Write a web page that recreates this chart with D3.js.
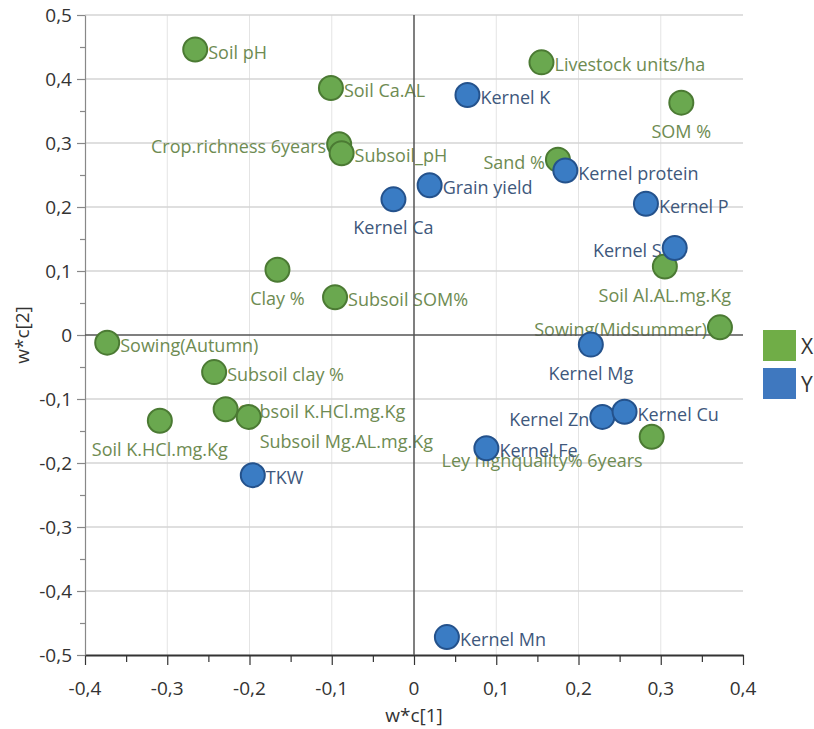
<!DOCTYPE html>
<html>
<head>
<meta charset="utf-8">
<script src="https://cdn.jsdelivr.net/npm/d3@7"></script>
<style>
  html, body { margin: 0; padding: 0; background: #fff; }
  svg { display: block; font-family: "Open Sans", "Segoe UI", sans-serif; }
</style>
</head>
<body>
<svg id="chart" width="814" height="729"></svg>
<script>
// X block (predictors) loadings
const xNames = ["Soil pH", "Soil Ca.AL", "Crop.richness 6years", "Subsoil_pH", "Livestock units/ha",
  "SOM %", "Sand %", "Clay %", "Subsoil SOM%", "Sowing(Autumn)", "Subsoil clay %",
  "Subsoil K.HCl.mg.Kg", "Subsoil Mg.AL.mg.Kg", "Soil K.HCl.mg.Kg", "Soil Al.AL.mg.Kg",
  "Sowing(Midsummer)", "Ley highquality% 6years"];
const xWc1 = [-0.266, -0.101, -0.091, -0.088, 0.155, 0.325, 0.175, -0.166, -0.096, -0.373, -0.243,
  -0.229, -0.201, -0.309, 0.305, 0.372, 0.289];
const xWc2 = [0.446, 0.386, 0.298, 0.284, 0.426, 0.363, 0.274, 0.102, 0.059, -0.012, -0.058,
  -0.116, -0.128, -0.134, 0.107, 0.012, -0.159];

// Y block (responses) loadings
const yNames = ["Kernel K", "Kernel protein", "Grain yield", "Kernel Ca", "Kernel P", "Kernel S",
  "Kernel Mg", "Kernel Zn", "Kernel Cu", "Kernel Fe", "TKW", "Kernel Mn"];
const yWc1 = [0.065, 0.184, 0.019, -0.025, 0.282, 0.317, 0.215, 0.229, 0.256, 0.088, -0.196, 0.040];
const yWc2 = [0.375, 0.257, 0.234, 0.212, 0.205, 0.136, -0.015, -0.128, -0.120, -0.177, -0.219, -0.472];

// where each label sits relative to its point: r, l, b (below), br, bl
const xLabelSide = ["r", "r", "l", "r", "r", "b", "l", "b", "r", "r", "r", "r", "br", "b", "b", "l", "bl"];
const yLabelSide = ["r", "r", "r", "b", "r", "l", "b", "l", "r", "r", "r", "r"];

const xTicks = [-0.4, -0.3, -0.2, -0.1, 0, 0.1, 0.2, 0.3, 0.4];
const yTicks = [-0.5, -0.4, -0.3, -0.2, -0.1, 0, 0.1, 0.2, 0.3, 0.4, 0.5];
const legendKeys = ["X", "Y"];

const fmt = v => (Math.abs(v) < 1e-9 ? "0" : d3.format(".1f")(v).replace(".", ",").replace("−", "-"));

const svg = d3.select("#chart");
const m = { left: 85, right: 743, top: 15, bottom: 655 };
const x = d3.scaleLinear().domain([-0.4, 0.4]).range([m.left, m.right]);
const y = d3.scaleLinear().domain([-0.5, 0.5]).range([m.bottom, m.top]);

const colors = {
  X: { fill: "#6aa84f", stroke: "#4b7a33", text: "#6e8b52", legend: "#70ad47" },
  Y: { fill: "#3a7cc4", stroke: "#24528c", text: "#40587c", legend: "#3f78bf" }
};

// grid
const grid = svg.append("g");
grid.selectAll(".vg").data(xTicks.filter(t => t > -0.4 && t < 0.4 && t !== 0)).join("line")
  .attr("x1", d => x(d)).attr("x2", d => x(d)).attr("y1", m.top).attr("y2", m.bottom)
  .attr("stroke", "#e4e4e4").attr("stroke-width", 1);
grid.selectAll(".hg").data(yTicks.filter(t => t > -0.5 && t !== 0)).join("line")
  .attr("x1", m.left).attr("x2", m.right).attr("y1", d => y(d)).attr("y2", d => y(d))
  .attr("stroke", "#d4d4d4").attr("stroke-width", 1.5);

// axes
const xAxis = d3.axisBottom(x).tickValues(d3.range(-0.4, 0.4001, 0.05)).tickSize(0).tickFormat("");
const gx = svg.append("g").attr("transform", `translate(0,${m.bottom})`).call(xAxis);
gx.select(".domain").attr("stroke", "#333").attr("stroke-width", 2);
gx.selectAll(".tick line").attr("stroke", "#333").attr("stroke-width", 1.2)
  .attr("y2", (d, i) => (i % 2 === 0 ? 10 : 7));
svg.append("g").selectAll("text").data(xTicks).join("text")
  .attr("x", d => x(d)).attr("y", 688).attr("text-anchor", "middle").attr("dominant-baseline", "central")
  .attr("font-size", 19).attr("fill", "#333").text(fmt);

const yAxis = d3.axisLeft(y).tickValues(d3.range(-0.5, 0.5001, 0.05)).tickSize(0).tickFormat("");
const gy = svg.append("g").attr("transform", `translate(${m.left},0)`).call(yAxis);
gy.select(".domain").attr("stroke", "#888").attr("stroke-width", 1.2);
gy.selectAll(".tick line").attr("stroke", "#888").attr("stroke-width", 1.2)
  .attr("x2", (d, i) => (i % 2 === 0 ? -8 : -5));
svg.append("g").selectAll("text").data(yTicks).join("text")
  .attr("x", 72).attr("y", d => y(d)).attr("text-anchor", "end").attr("dominant-baseline", "central")
  .attr("font-size", 19).attr("fill", "#333").text(fmt);

// axis titles
svg.append("text").attr("x", x(0)).attr("y", 715).attr("text-anchor", "middle")
  .attr("dominant-baseline", "central").attr("font-size", 19).attr("fill", "#333").text("w*c[1]");
svg.append("text").attr("transform", `translate(22,${y(0)}) rotate(-90)`).attr("text-anchor", "middle")
  .attr("dominant-baseline", "central").attr("font-size", 19).attr("fill", "#333").text("w*c[2]");

// points as rows
const rows = [
  ...xNames.map((n, i) => ({ name: n, c1: xWc1[i], c2: xWc2[i], side: xLabelSide[i], key: "X" })),
  ...yNames.map((n, i) => ({ name: n, c1: yWc1[i], c2: yWc2[i], side: yLabelSide[i], key: "Y" }))
];

const r = 12;
function labelPos(d) {
  const cx = x(d.c1), cy = y(d.c2);
  switch (d.side) {
    case "l": return { x: cx - 13, y: cy + 2, a: "end" };
    case "b": return { x: cx, y: cy + 28, a: "middle" };
    case "br": return { x: cx + 11, y: cy + 24, a: "start" };
    case "bl": return { x: cx - 9, y: cy + 23, a: "end" };
    default: return { x: cx + 13, y: cy + 2, a: "start" };
  }
}

svg.append("g").selectAll("text").data(rows).join("text")
  .each(function (d) {
    const p = labelPos(d);
    d3.select(this).attr("x", p.x).attr("y", p.y).attr("text-anchor", p.a);
  })
  .attr("dominant-baseline", "central").attr("font-size", 18)
  .attr("fill", d => colors[d.key].text).text(d => d.name);

// zero lines
svg.append("line").attr("x1", x(0)).attr("x2", x(0)).attr("y1", m.top).attr("y2", m.bottom)
  .attr("stroke", "#555").attr("stroke-width", 1.5);
svg.append("line").attr("x1", m.left).attr("x2", m.right).attr("y1", y(0)).attr("y2", y(0))
  .attr("stroke", "#555").attr("stroke-width", 1.5);

svg.append("g").selectAll("circle").data(rows).join("circle")
  .attr("cx", d => x(d.c1)).attr("cy", d => y(d.c2)).attr("r", r)
  .attr("fill", d => colors[d.key].fill).attr("stroke", d => colors[d.key].stroke).attr("stroke-width", 2);

// legend
const lg = svg.append("g").selectAll("g").data(legendKeys).join("g")
  .attr("transform", (d, i) => `translate(763,${330 + i * 38})`);
lg.append("rect").attr("width", 33).attr("height", 31).attr("fill", d => colors[d].legend);
lg.append("text").attr("x", 38).attr("y", 16).attr("dominant-baseline", "central")
  .attr("font-size", 21).attr("fill", "#333").text(d => d);
</script>
</body>
</html>
